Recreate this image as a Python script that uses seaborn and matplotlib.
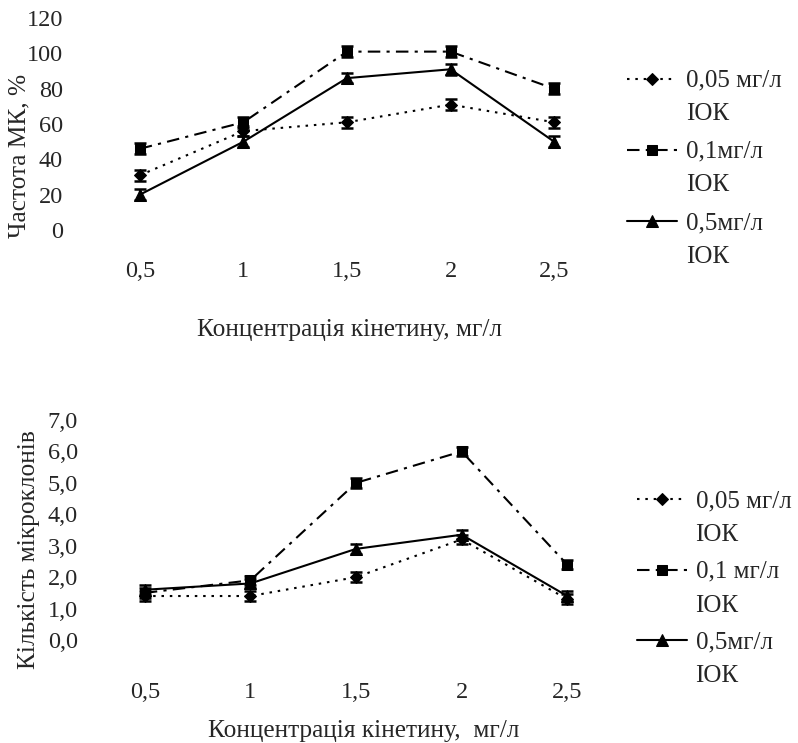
import matplotlib
matplotlib.use("Agg")
import matplotlib.pyplot as plt
import numpy as np
import pandas as pd
import seaborn as sns
from matplotlib.legend_handler import HandlerLine2D

# Концентрація кінетину, мг/л
kinetin = ["0,5", "1", "1,5", "2", "2,5"]
series_labels = ["0,05 мг/л\nІОК", "0,1мг/л\nІОК", "0,5мг/л\nІОК"]
series_labels_b = ["0,05 мг/л\nІОК", "0,1 мг/л\nІОК", "0,5мг/л\nІОК"]

# Частота МК, %
freq_005 = [31, 56, 61, 71, 61]
freq_01 = [46, 61, 101, 101, 80]
freq_05 = [20, 50, 86, 91, 50]
freq_err = [3, 3, 3, 3, 3]

# Кількість мікроклонів
count_005 = [1.4, 1.4, 2.0, 3.2, 1.3]
count_01 = [1.5, 1.9, 5.0, 6.0, 2.4]
count_05 = [1.6, 1.8, 2.9, 3.35, 1.4]
count_err = [0.15, 0.15, 0.15, 0.15, 0.15]

sns.set_theme(style="white")
plt.rcParams["font.family"] = ["Liberation Serif", "DejaVu Serif"]
FS_TICK = 17.5
FS_LABEL = 18.3
FS_LEG = 18

STYLES = [
    dict(marker="D", markersize=6, linestyle=(0, (1.2, 2.8))),
    dict(marker="s", markersize=6.5, linestyle=(0, (6, 3, 1.5, 3))),
    dict(marker="^", markersize=8.5, linestyle="-"),
]


class TopHandler(HandlerLine2D):
    """Ставить маркер легенди на рівень першого рядка підпису."""

    def create_artists(self, legend, orig_handle, xdescent, ydescent,
                       width, height, fontsize, trans):
        return super().create_artists(legend, orig_handle, xdescent,
                                      ydescent - 1.5 * fontsize, width,
                                      height, fontsize, trans)


def draw_panel(ax, series, err, labels, ylim, yticks, ytick_fmt,
               xpad, ypad):
    x = np.arange(len(kinetin))
    for vals, lab, st in zip(series, labels, STYLES):
        df = pd.DataFrame({"x": x, "y": vals})
        sns.lineplot(data=df, x="x", y="y", ax=ax, color="black",
                     linewidth=1.5, marker=st["marker"],
                     markersize=st["markersize"], markeredgecolor="black",
                     linestyle=st["linestyle"], label=lab)
        ax.errorbar(x, vals, yerr=err, fmt="none", ecolor="black",
                    elinewidth=1.6, capsize=4.5, capthick=1.8)
    ax.set_xlim(-0.5, len(kinetin) - 0.5)
    ax.set_ylim(*ylim)
    ax.set_xticks(x)
    ax.set_xticklabels(kinetin)
    ax.set_yticks(yticks)
    ax.set_yticklabels([ytick_fmt(v) for v in yticks])
    ax.tick_params(axis="x", length=0, pad=xpad, labelsize=FS_TICK)
    ax.tick_params(axis="y", length=0, pad=ypad, labelsize=FS_TICK)
    for sp in ax.spines.values():
        sp.set_visible(False)


fig = plt.figure(figsize=(7.98, 7.43), dpi=100)

# верхній графік
ax1 = fig.add_axes([0.1103, 0.6904, 0.649, 0.2853])
draw_panel(ax1, [freq_005, freq_01, freq_05], freq_err, series_labels,
           (0, 120), list(range(0, 121, 20)), lambda v: f"{v}",
           xpad=22, ypad=18)
ax1.set_xlabel("Концентрація кінетину, мг/л", fontsize=FS_LABEL)
ax1.xaxis.set_label_coords(0.504, -0.42)
ax1.set_ylabel("Частота МК, %", fontsize=FS_LABEL)
ax1.yaxis.set_label_coords(-0.112, 0.35)

# нижній графік
ax2 = fig.add_axes([0.1153, 0.1386, 0.6617, 0.2961])
draw_panel(ax2, [count_005, count_01, count_05], count_err, series_labels_b,
           (0, 7), list(range(0, 8)), lambda v: f"{v:.1f}".replace(".", ","),
           xpad=30, ypad=10)
ax2.set_xlabel("Концентрація кінетину,  мг/л", fontsize=FS_LABEL)
ax2.xaxis.set_label_coords(0.515, -0.362)
ax2.set_ylabel("Кількість мікроклонів", fontsize=FS_LABEL)
ax2.yaxis.set_label_coords(-0.098, 0.41)

for ax, anchor, spacing in [(ax1, (0.786, 0.906), 0.62),
                            (ax2, (0.798, 0.340), 0.6)]:
    leg = ax.legend(loc="upper left", bbox_to_anchor=anchor,
                    bbox_transform=fig.transFigure, frameon=False,
                    fontsize=FS_LEG, handlelength=2.0, handletextpad=0.35,
                    labelspacing=spacing, borderpad=0, borderaxespad=0,
                    handler_map={matplotlib.lines.Line2D: TopHandler()})
    for t in leg.get_texts():
        t.set_linespacing(1.68)

fig.savefig("out.png", dpi=100, facecolor="white")
